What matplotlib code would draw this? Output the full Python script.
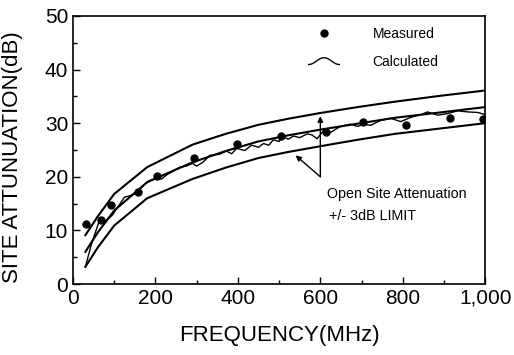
import matplotlib
matplotlib.use("Agg")
import matplotlib.pyplot as plt
import numpy as np
from matplotlib.legend_handler import HandlerBase
from matplotlib.lines import Line2D
from matplotlib.ticker import FuncFormatter, MultipleLocator

plt.rcParams["font.family"] = ["Liberation Sans", "DejaVu Sans"]

# +/- 3 dB limit band around the open site attenuation (NSA) curve
limit_freq = [30, 60, 100, 180, 290, 370, 450, 520, 600, 690, 780, 890, 1000]
upper_db = [9.1, 12.6, 16.8, 21.8, 26.0, 28.0, 29.7, 30.8, 31.9, 33.0, 34.0, 35.1, 36.1]
middle_db = [6.0, 9.6, 13.7, 19.0, 22.7, 24.8, 26.6, 27.7, 28.8, 29.9, 31.0, 32.0, 33.0]
lower_db = [3.2, 6.8, 10.9, 16.0, 19.6, 21.7, 23.5, 24.6, 25.7, 26.9, 28.0, 29.0, 30.0]

# measured points
meas_freq = [31, 67, 93, 157, 204, 293, 399, 505, 614, 703, 807, 915, 994]
meas_db = [11.1, 12.0, 14.8, 17.2, 20.2, 23.5, 26.1, 27.6, 28.4, 30.3, 29.6, 31.0, 30.8]

# calculated curve (wavy)
calc_freq = [30, 45, 63, 80, 95, 110, 125, 140, 155, 170, 185, 200, 215, 230,
             245, 260, 275, 290, 300, 315, 332, 356, 372, 385, 397, 417, 433,
             450, 462, 475, 486, 500, 510, 522, 535, 550, 568, 580, 592, 608,
             625, 649, 673, 690, 705, 722, 746, 771, 795, 820, 844, 860, 885,
             909, 933, 958, 982, 1000]
calc_db = [3.2, 7.5, 11.6, 11.8, 12.8, 14.5, 16.2, 16.5, 17.0, 18.3, 19.3, 19.6,
           19.6, 20.5, 21.2, 21.8, 22.0, 22.5, 22.0, 22.7, 24.0, 24.2, 24.8, 24.3,
           25.3, 24.9, 25.9, 25.5, 26.2, 25.9, 26.9, 26.6, 27.5, 27.0, 27.6, 27.3,
           28.0, 27.8, 27.1, 28.6, 28.3, 29.4, 29.8, 29.4, 29.8, 29.6, 30.5, 30.9,
           30.3, 31.1, 31.6, 32.1, 31.5, 31.8, 32.3, 32.1, 32.0, 31.6]


class WaveHandler(HandlerBase):
    # legend glyph: small "~" wave
    def create_artists(self, legend, orig_handle, xdescent, ydescent,
                       width, height, fontsize, trans):
        t = np.linspace(0, 1, 30)
        xs = -xdescent + t * width
        ys = -ydescent + height / 2 - height * 0.35 * np.cos(2 * np.pi * t)
        line = Line2D(xs, ys, color="black", lw=1.0)
        line.set_transform(trans)
        return [line]


fig = plt.figure(figsize=(5.14, 3.55), dpi=100)
ax = fig.add_axes([0.142, 0.200, 0.802, 0.755])

ax.plot(limit_freq, upper_db, color="black", lw=1.5)
ax.plot(limit_freq, middle_db, color="black", lw=1.5)
ax.plot(limit_freq, lower_db, color="black", lw=1.5)
calc_line, = ax.plot(calc_freq, calc_db, color="black", lw=1.0)
meas_pts, = ax.plot(meas_freq, meas_db, "o", color="black", ms=5, ls="none")

# annotation arrows pointing at the limit lines
ax.annotate("", xy=(600, 31.3), xytext=(600, 20.0),
            arrowprops=dict(arrowstyle="-|>", color="black", lw=1.0,
                            mutation_scale=8, shrinkA=0, shrinkB=0))
ax.annotate("", xy=(540, 24.0), xytext=(600, 20.0),
            arrowprops=dict(arrowstyle="-|>", color="black", lw=1.0,
                            mutation_scale=8, shrinkA=0, shrinkB=0))
ax.text(615, 16.7, "Open Site Attenuation", fontsize=10.3, va="center")
ax.text(622, 12.6, "+/- 3dB LIMIT", fontsize=10.3, va="center")

leg = ax.legend([meas_pts, calc_line], ["Measured", "Calculated"],
                handler_map={calc_line: WaveHandler()},
                loc="upper left", bbox_to_anchor=(0.545, 1.0), frameon=False,
                fontsize=10, handlelength=2.2, handletextpad=2.4,
                labelspacing=1.0, borderaxespad=0.4)

ax.set_xlim(0, 1000)
ax.set_ylim(0, 50)
ax.xaxis.set_major_locator(MultipleLocator(200))
ax.xaxis.set_minor_locator(MultipleLocator(100))
ax.yaxis.set_major_locator(MultipleLocator(10))
ax.yaxis.set_minor_locator(MultipleLocator(5))
ax.xaxis.set_major_formatter(FuncFormatter(lambda v, p: f"{int(v):,}"))
ax.tick_params(which="both", direction="in", top=False, right=False,
               labelsize=15, width=1.0)
ax.tick_params(which="major", length=5)
ax.tick_params(which="minor", length=3)
for s in ax.spines.values():
    s.set_linewidth(1.2)

ax.set_xlabel("FREQUENCY(MHz)", fontsize=16, labelpad=12)
ax.set_ylabel("SITE ATTUNUATION(dB)", fontsize=16)
ax.yaxis.set_label_coords(-0.121, 0.475)

fig.savefig("out.png", dpi=100)
